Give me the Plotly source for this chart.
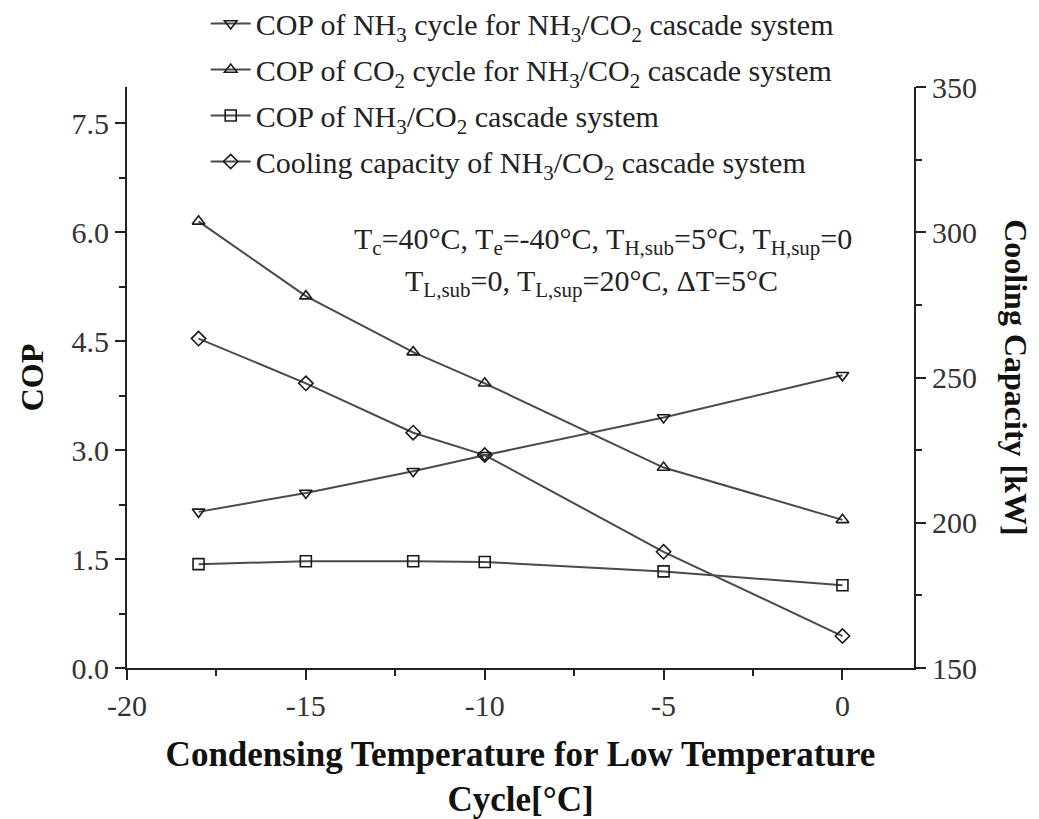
import plotly.graph_objects as go

# Condensing temperature of the low-temperature (CO2) cycle, °C
cond_temp = [-18, -15, -12, -10, -5, 0]

# COP values (left axis)
cop_nh3 = [2.15, 2.41, 2.71, 2.93, 3.45, 4.03]
cop_co2 = [6.15, 5.12, 4.35, 3.92, 2.76, 2.04]
cop_cascade = [1.43, 1.47, 1.47, 1.46, 1.33, 1.14]

# Cooling capacity, kW (right axis)
cooling_kw = [263.4, 248.0, 231.0, 223.3, 190.0, 161.0]

# Tick values for each axis
x_ticks = [-20, -15, -10, -5, 0]
cop_ticks = [0.0, 1.5, 3.0, 4.5, 6.0, 7.5]
cap_ticks = [150, 200, 250, 300, 350]

series_names = [
    "COP of NH<sub>3</sub> cycle for NH<sub>3</sub>/CO<sub>2</sub> cascade system",
    "COP of CO<sub>2</sub> cycle for NH<sub>3</sub>/CO<sub>2</sub> cascade system",
    "COP of NH<sub>3</sub>/CO<sub>2</sub> cascade system",
    "Cooling capacity of NH<sub>3</sub>/CO<sub>2</sub> cascade system",
]

FONT = "Liberation Serif, Times New Roman, serif"
LINE = "#4a4a4a"
MARK = "#1a1a1a"

fig = go.Figure()


def add_series(y, name, symbol, group, axis="y"):
    fig.add_trace(go.Scatter(
        x=cond_temp, y=y, name=name, yaxis=axis,
        mode="lines+markers", legendgroup=group,
        line=dict(color=LINE, width=2),
        marker=dict(symbol=symbol, size=11, color=MARK,
                    line=dict(color=MARK, width=1.6)),
    ))


add_series(cop_nh3, series_names[0], "triangle-down-open", "a")
add_series(cop_co2, series_names[1], "triangle-up-open", "b")
add_series(cop_cascade, series_names[2], "square-open", "c")
add_series(cooling_kw, series_names[3], "diamond-open", "d", axis="y2")

axis_common = dict(
    showline=True, linecolor="#222", linewidth=2, mirror=False,
    ticks="outside", ticklen=10, tickwidth=2, tickcolor="#222",
    showgrid=False, zeroline=False,
    tickfont=dict(family=FONT, size=30, color="#333"),
)
minor_common = dict(ticks="outside", ticklen=6, tickwidth=2, tickcolor="#222")

fig.update_layout(
    width=1039, height=819,
    paper_bgcolor="white", plot_bgcolor="white",
    margin=dict(l=127, r=125, t=87, b=151, autoexpand=False),
    font=dict(family=FONT, color="#222"),
    xaxis=dict(
        range=[-20, 2], tickmode="array", tickvals=x_ticks,
        ticktext=[str(v) for v in x_ticks],
        minor=dict(dtick=2.5, tick0=-20, **minor_common),
        title=dict(text="<b>Condensing Temperature for Low Temperature<br>Cycle[°C]</b>",
                   font=dict(family=FONT, size=35, color="#111"), standoff=22),
        **axis_common,
    ),
    yaxis=dict(
        range=[0, 8], tickmode="array", tickvals=cop_ticks,
        ticktext=[f"{v:.1f}" for v in cop_ticks],
        minor=dict(dtick=0.75, tick0=0, **minor_common),
        title=dict(text="<b>COP</b>", font=dict(family=FONT, size=32, color="#111"),
                   standoff=18),
        **axis_common,
    ),
    yaxis2=dict(
        range=[150, 350], tickmode="array", tickvals=cap_ticks,
        ticktext=[str(v) for v in cap_ticks],
        minor=dict(dtick=25, tick0=150, **minor_common),
        overlaying="y", side="right", anchor="x",
        **axis_common,
    ),
    legend=dict(
        x=0.1, y=1.154, xanchor="left", yanchor="top",
        bgcolor="rgba(0,0,0,0)", borderwidth=0,
        font=dict(family=FONT, size=30, color="#222"),
        tracegroupgap=4, itemwidth=40,
    ),
    showlegend=True,
)

# Operating-condition note inside the plot
fig.add_annotation(
    xref="paper", yref="paper", x=0.605, y=0.735, xanchor="center", yanchor="middle",
    text="T<sub>c</sub>=40°C, T<sub>e</sub>=-40°C, T<sub>H,sub</sub>=5°C, T<sub>H,sup</sub>=0",
    showarrow=False, font=dict(family=FONT, size=30, color="#222"),
)
fig.add_annotation(
    xref="paper", yref="paper", x=0.59, y=0.662, xanchor="center", yanchor="middle",
    text="T<sub>L,sub</sub>=0, T<sub>L,sup</sub>=20°C, ΔT=5°C",
    showarrow=False, font=dict(family=FONT, size=30, color="#222"),
)

# Right-axis title reads top to bottom
fig.add_annotation(
    xref="paper", yref="paper", x=1.13, y=0.5, xanchor="center", yanchor="middle",
    text="<b>Cooling Capacity [kW]</b>", textangle=90,
    showarrow=False, font=dict(family=FONT, size=32, color="#111"),
)

fig.write_html("out.html")
